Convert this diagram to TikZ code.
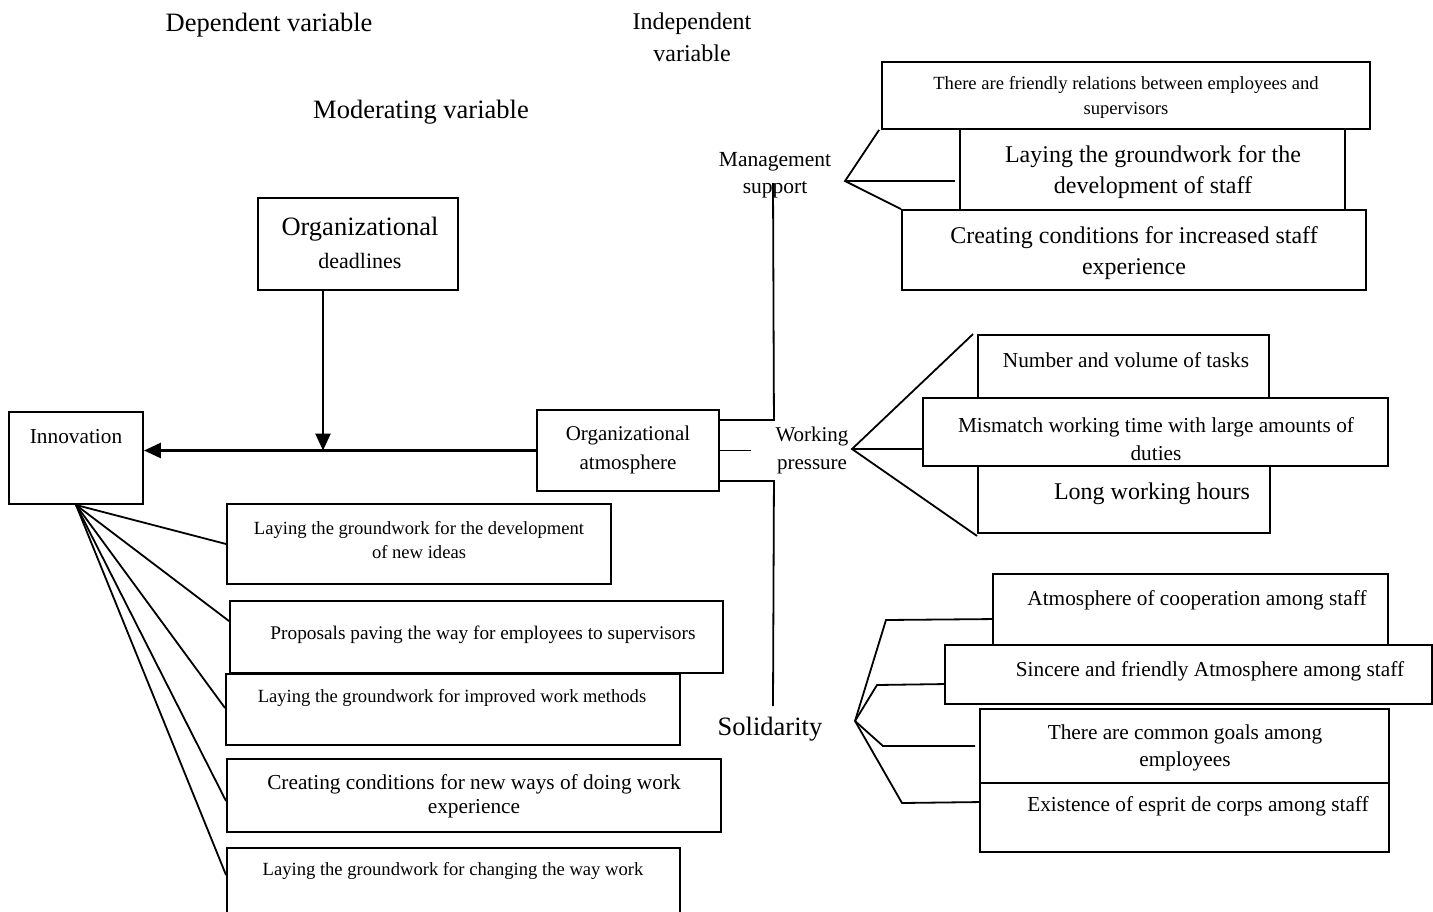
\documentclass[tikz,border=0pt]{standalone}
\usepackage{fontspec}
\setmainfont{Liberation Serif}
\usetikzlibrary{arrows.meta,fit}
\tikzset{
  bx/.style={draw, line width=1.9pt, inner sep=0pt},
  ln/.style={line width=1.8pt},
  mainln/.style={line width=2.6pt},
  arr/.style={-{Triangle[length=17pt,width=15pt]}},
  fA/.style={font=\fontsize{18.6}{25}\selectfont, align=center, inner sep=0pt},
  fP/.style={font=\fontsize{19.3}{25}\selectfont, align=center, inner sep=0pt},
  fB/.style={font=\fontsize{21.3}{28}\selectfont, align=center, inner sep=0pt},
  fC/.style={font=\fontsize{24}{31}\selectfont, align=center, inner sep=0pt},
  fD/.style={font=\fontsize{26.5}{33}\selectfont, align=center, inner sep=0pt},
}
\newcommand\bxnode[5]{\node[bx, fit={(#2,#3)(#4,#5)}] (#1) {};}
\begin{document}
\begin{tikzpicture}[x=1pt,y=-1pt]
\useasboundingbox (0,0) rectangle (1433,911);

% headings
\node[fD] (dep) at (269,25) {Dependent variable};
\node[fC, font=\fontsize{24}{32}\selectfont] (indep) at (692,37) {Independent\\variable};
\node[fD] (mod) at (421,112) {Moderating variable};

% moderating box
\bxnode{dl}{258}{198}{458}{290}
\node[fD] (dlt) at (360,243) {Organizational\\\fontsize{22}{33}\selectfont deadlines};

% dependent / independent
\bxnode{inn}{9}{412}{143}{504}
\node[fB] (innt) at (76,437) {Innovation};
\bxnode{oa}{537}{410}{719}{491}
\node[fB, font=\fontsize{21}{29}\selectfont] (oat) at (628,450) {Organizational\\atmosphere};

% dimension labels
\node[fB, font=\fontsize{21.5}{27}\selectfont] (ms) at (775,175) {Management\\support};
\node[fB, font=\fontsize{21}{28}\selectfont] (wp) at (812,450) {Working\\pressure};
\node[fD] (sol) at (770,729) {Solidarity};

% management support boxes
\bxnode{mb1}{882}{62}{1370}{129}
\node[fA] (mt1) at (1126,97) {There are friendly relations between employees and\\supervisors};
\bxnode{mb2}{960}{129}{1345}{210}
\node[fC] (mt2) at (1153,172) {Laying the groundwork for the\\development of staff};
\bxnode{mb3}{902}{210}{1366}{290}
\node[fC] (mt3) at (1134,253) {Creating conditions for increased staff\\experience};

% working pressure boxes
\bxnode{wb1}{978}{335}{1269}{398}
\node[fB] (wt1) at (1126,360) {Number and volume of tasks};
\bxnode{wb2}{923}{398}{1388}{466}
\node[fB] (wt2) at (1156,439) {Mismatch working time with large amounts of\\duties};
\bxnode{wb3}{978}{466}{1270}{533}
\node[fC] (wt3) at (1152,494) {Long working hours};

% solidarity boxes
\bxnode{sb1}{993}{574}{1388}{645}
\node[fB] (st1) at (1197,600) {Atmosphere of cooperation among staff};
\bxnode{sb2}{945}{645}{1432}{704}
\node[fB] (st2) at (1210,671) {Sincere and friendly Atmosphere among staff};
\bxnode{sb3}{980}{709}{1389}{783}
\node[fB, font=\fontsize{21.3}{27}\selectfont] (st3) at (1185,748) {There are common goals among\\employees};
\bxnode{sb4}{980}{783}{1389}{852}
\node[fB] (st4) at (1198,806) {Existence of esprit de corps among staff};

% innovation boxes
\bxnode{ib1}{227}{504}{611}{584}
\node[fA, font=\fontsize{18.6}{24}\selectfont] (it1) at (419,540) {Laying the groundwork for the development\\of new ideas};
\bxnode{ib2}{230}{601}{723}{673}
\node[fP] (it2) at (483,635) {Proposals paving the way for employees to supervisors};
\bxnode{ib3}{226}{674}{680}{745}
\node[fA] (it3) at (452,698) {Laying the groundwork for improved work methods};
\bxnode{ib4}{227}{759}{721}{832}
\node[fB, font=\fontsize{21.3}{24}\selectfont] (it4) at (474,796) {Creating conditions for new ways of doing work\\experience};
\bxnode{ib5}{227}{848}{680}{935}
\node[fA] (it5) at (453,871) {Laying the groundwork for changing the way work};

% main arrows
\coordinate (j) at (323,450.5);
\draw[mainln, arr] (dl.south -| j) -- (j);
\draw[mainln, arr] (oa.west) -- (oa.west -| inn.east);

% from organizational atmosphere to dimensions
\coordinate (msb) at (773,183);
\coordinate (solt) at (773,706);
\draw[ln] ([yshift=-11pt]oa.north east) -- ++(54,0) -- (msb);
\draw[ln] (oa.east) -- ++(31,0);
\draw[ln] ([yshift=11pt]oa.south east) -- ++(54,0) -- (solt);

% management support fan
\coordinate (msf) at (845,181);
\coordinate (m2e) at (955,181);
\draw[ln] ([xshift=-2pt]mb1.south west) -- (msf) -- (mb3.north west);
\draw[ln] (msf) -- (m2e);

% working pressure fan
\coordinate (wpf) at (852,449);
\draw[ln] ([xshift=-4pt]wb1.north west) -- (wpf) -- ([yshift=-2pt]wb3.south west);
\draw[ln] (wpf) -- (wb2.west |- wpf);

% solidarity fan
\coordinate (sf) at (855,721);
\coordinate (s3e) at (975,746);
\draw[ln] (sf) -- (886,620) -- ([yshift=-46pt]sb1.north west);
\draw[ln] (sf) -- (877,685) -- ([yshift=-40pt]sb2.north west);
\draw[ln] (sf) -- (883,746) -- (s3e);
\draw[ln] (sf) -- (902,803) -- ([yshift=-20pt]sb4.north west);

% innovation fan
\draw[ln] (inn.south) -- (ib1.west);
\draw[ln] (inn.south) -- ([yshift=-21pt]ib2.north west);
\draw[ln] (inn.south) -- ([yshift=-35pt]ib3.north west);
\draw[ln] (inn.south) -- ([yshift=-43pt]ib4.north west);
\draw[ln] (inn.south) -- ([yshift=-28pt]ib5.north west);
\end{tikzpicture}
\end{document}
